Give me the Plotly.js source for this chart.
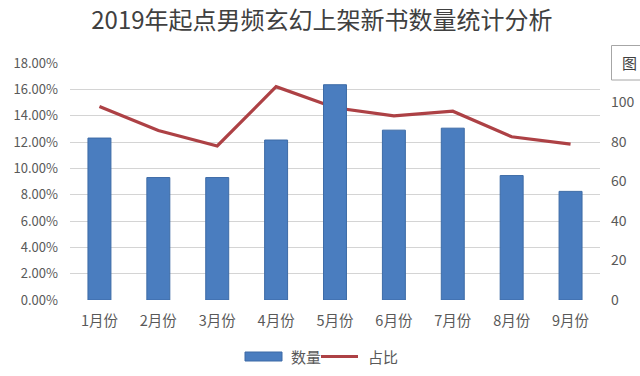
<!DOCTYPE html>
<html>
<head>
<meta charset="utf-8">
<script src="https://cdn.plot.ly/plotly-3.0.1.min.js"></script>
<style>html,body{margin:0;padding:0;background:#fff;}#chart{width:640px;height:376px;}</style>
</head>
<body>
<div id="chart"></div>
<script>
const months = ['1月份','2月份','3月份','4月份','5月份','6月份','7月份','8月份','9月份'];
const counts = [82, 62, 62, 81, 109, 86, 87, 63, 55];
const shares = [0.147, 0.1287, 0.117, 0.162, 0.146, 0.1398, 0.1434, 0.124, 0.1184];
const leftTicks = [0, 0.02, 0.04, 0.06, 0.08, 0.10, 0.12, 0.14, 0.16, 0.18];
const rightTicks = [0, 20, 40, 60, 80, 100];
const seriesNames = ['数量', '占比'];
const titleText = '2019年起点男频玄幻上架新书数量统计分析';

const BAR = '#4a7dbf', LINE = '#ad4145';
const FONT = 'Noto Sans CJK SC, Noto Sans, sans-serif';
const L = 70, R = 600, T = 63, B = 300;
const px = x => (x - L) / (R - L);
const py = y => (B - y) / (B - T);

const traces = [
  {type:'bar', x: months, y: counts, name: seriesNames[0], yaxis:'y2',
   marker:{color: BAR, line:{color:'#3d6ba6', width:1}}, showlegend:false},
  {type:'scatter', mode:'lines', x: months, y: shares, name: seriesNames[1], yaxis:'y',
   line:{color: LINE, width:3.2}, showlegend:false}
];

const layout = {
  width:640, height:376,
  margin:{l:L, r:640-R, t:T, b:376-B},
  paper_bgcolor:'#fff', plot_bgcolor:'#fff',
  font:{family:FONT, color:'#595959'},
  title:{text:titleText, font:{size:24, color:'#404040', family:FONT},
         xref:'container', x:0.503, xanchor:'center', yref:'container', y:1-21/376, yanchor:'middle'},
  bargap:0.61,
  xaxis:{type:'category', showgrid:false, zeroline:false, showline:false, ticks:'',
         tickfont:{size:14.5, color:'#595959'}, ticklabelstandoff:10, fixedrange:true},
  yaxis:{range:[0,0.18], tickvals:leftTicks, tickformat:'.2%', showgrid:true,
         gridcolor:'#d4d4d4', gridwidth:1, zeroline:false, showline:false, ticks:'',
         tickfont:{size:13, color:'#595959'}, ticklabelstandoff:11},
  yaxis2:{range:[0,120], tickvals:rightTicks, overlaying:'y', side:'right', showgrid:false,
          zeroline:false, showline:false, ticks:'', tickfont:{size:14, color:'#595959'},
          ticklabelstandoff:10},
  shapes:[
    {type:'rect', xref:'paper', yref:'paper', x0:px(245), x1:px(282), y0:py(361), y1:py(352),
     fillcolor:BAR, line:{color:'#3d6ba6', width:1}},
    {type:'line', xref:'paper', yref:'paper', x0:px(321), x1:px(358), y0:py(356.5), y1:py(356.5),
     line:{color:LINE, width:3.2}},
    {type:'rect', xref:'paper', yref:'paper', x0:px(611.5), x1:px(660), y0:py(80), y1:py(45.5),
     fillcolor:'#fff', line:{color:'#a6a6a6', width:1}}
  ],
  annotations:[
    {xref:'paper', yref:'paper', x:px(289), y:py(356.5), xanchor:'left', yanchor:'middle',
     text:seriesNames[0], showarrow:false, font:{size:15, color:'#595959'}},
    {xref:'paper', yref:'paper', x:px(366), y:py(356.5), xanchor:'left', yanchor:'middle',
     text:seriesNames[1], showarrow:false, font:{size:15, color:'#595959'}},
    {xref:'paper', yref:'paper', x:px(620), y:py(62.5), xanchor:'left', yanchor:'middle',
     text:'图', showarrow:false, font:{size:15, color:'#404040'}}
  ]
};

Plotly.newPlot('chart', traces, layout, {displayModeBar:false, staticPlot:true});
</script>
</body>
</html>
